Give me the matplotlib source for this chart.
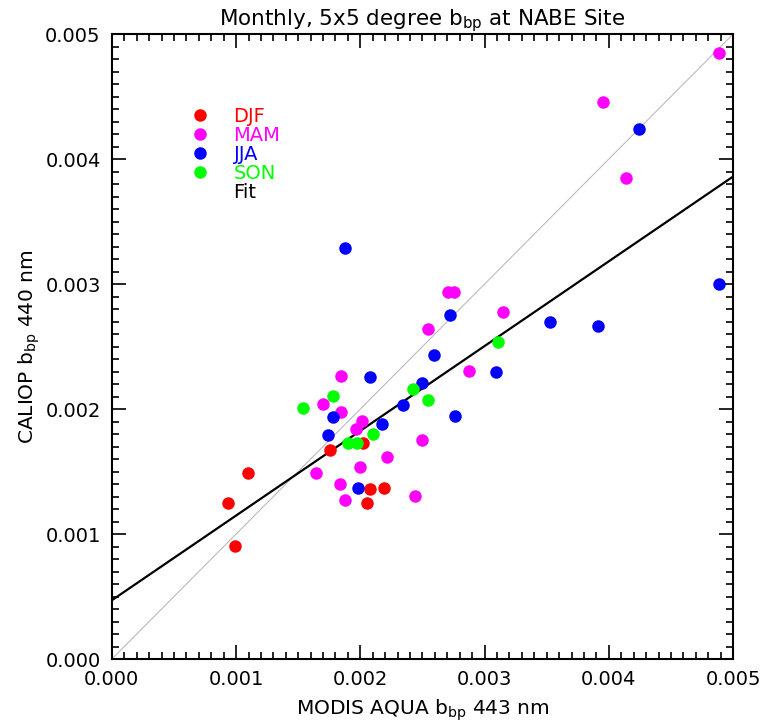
import matplotlib.pyplot as plt
from matplotlib.lines import Line2D
from matplotlib.ticker import MultipleLocator, FormatStrFormatter

# MODIS (x) vs CALIOP (y) bbp, per season
djf_x = [0.000935, 0.001097, 0.000992, 0.001758, 0.002024, 0.002081, 0.002194, 0.002056]
djf_y = [0.001248, 0.001488, 0.000904, 0.001672, 0.001728, 0.001360, 0.001368, 0.001248]

mam_x = [0.004887, 0.003952, 0.004137, 0.002702, 0.002750, 0.003145, 0.002548, 0.002871,
         0.001847, 0.001702, 0.001847, 0.002016, 0.001968, 0.002218, 0.002500, 0.002000,
         0.001645, 0.001839, 0.001879, 0.002444]
mam_y = [0.004848, 0.004456, 0.003848, 0.002936, 0.002936, 0.002776, 0.002640, 0.002304,
         0.002264, 0.002040, 0.001976, 0.001904, 0.001840, 0.001616, 0.001752, 0.001536,
         0.001488, 0.001400, 0.001272, 0.001304]

jja_x = [0.004242, 0.004887, 0.001879, 0.002718, 0.003524, 0.003911, 0.002589, 0.003089,
         0.002081, 0.002500, 0.002347, 0.002766, 0.002177, 0.001782, 0.001742, 0.001984]
jja_y = [0.004240, 0.003000, 0.003288, 0.002752, 0.002696, 0.002664, 0.002432, 0.002296,
         0.002256, 0.002208, 0.002032, 0.001944, 0.001880, 0.001936, 0.001792, 0.001368]

son_x = [0.003105, 0.002427, 0.002548, 0.001782, 0.001540, 0.002105, 0.001903, 0.001976]
son_y = [0.002536, 0.002160, 0.002072, 0.002104, 0.002008, 0.001800, 0.001728, 0.001728]

# linear fit (intercept, slope) and 1:1 line
fit_a = 0.00047
fit_b = 0.678
line_x = [0.0, 0.005]

seasons = ["DJF", "MAM", "JJA", "SON"]
colors = ["#ff0000", "#ff00ff", "#0000ff", "#00ff00"]

plt.rcParams['font.family'] = ['DejaVu Sans']

fig = plt.figure(figsize=(7.66, 7.25), dpi=100)
ax = fig.add_axes([0.146, 0.091, 0.811, 0.862])

ax.plot(line_x, line_x, color="#bbbbbb", lw=0.8, zorder=1)
ax.plot(line_x, [fit_a + fit_b * v for v in line_x], color="black", lw=1.6, zorder=2)

data = [(djf_x, djf_y), (mam_x, mam_y), (jja_x, jja_y), (son_x, son_y)]
for (xs, ys), c in zip(data, colors):
    ax.plot(xs, ys, "o", color=c, ms=9, mec="none", zorder=3)

ax.set_xlim(0, 0.005)
ax.set_ylim(0, 0.005)
ax.xaxis.set_major_locator(MultipleLocator(0.001))
ax.yaxis.set_major_locator(MultipleLocator(0.001))
ax.xaxis.set_minor_locator(MultipleLocator(0.0001))
ax.yaxis.set_minor_locator(MultipleLocator(0.0001))
ax.xaxis.set_major_formatter(FormatStrFormatter("%.3f"))
ax.yaxis.set_major_formatter(FormatStrFormatter("%.3f"))
ax.tick_params(which="both", direction="in", top=True, right=True, labelsize=14, width=1.2)
ax.tick_params(which="major", length=10, pad=8)
ax.tick_params(which="minor", length=5)
for s in ax.spines.values():
    s.set_linewidth(1.5)

ax.set_title("Monthly, 5x5 degree b$_{\\mathregular{bp}}$ at NABE Site", fontsize=15.5, pad=4)
ax.set_xlabel("MODIS AQUA b$_{\\mathregular{bp}}$ 443 nm", fontsize=14.5, labelpad=6)
ax.set_ylabel("CALIOP b$_{\\mathregular{bp}}$ 440 nm", fontsize=14.5, labelpad=2)

handles = [Line2D([], [], ls="none", marker="o", color=c, ms=9, mec="none") for c in colors]
handles.append(Line2D([], [], ls="none"))
ax.legend(handles, seasons + ["Fit"], labelcolor=colors + ["black"], loc="upper left",
          bbox_to_anchor=(0.105, 0.905), frameon=False, fontsize=14, labelspacing=0.0,
          handlelength=1.0, handletextpad=1.2, borderpad=0.2)

fig.savefig("out.png", dpi=100)
